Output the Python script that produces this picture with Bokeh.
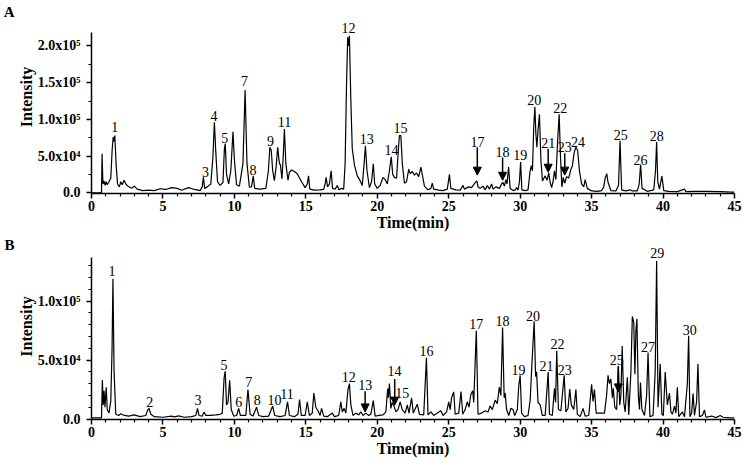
from bokeh.plotting import figure
from bokeh.layouts import column
from bokeh.models import (ColumnDataSource, LabelSet, Arrow, NormalHead, LinearAxis,
                          FixedTicker, Range1d)
from bokeh.embed import file_html
from bokeh.resources import INLINE

# ---------------- Panel A data ----------------
a_time = [0.0, 0.70, 0.74, 0.80, 0.88, 0.95, 1.02, 1.10, 1.20, 1.35, 1.45, 1.52, 1.57, 1.63, 1.72, 1.82,
          1.95, 2.05, 2.15, 2.28, 2.40, 2.55, 2.80, 3.00, 3.20, 3.60, 4.00, 4.40, 4.80, 5.20, 5.60, 6.00,
          6.30, 6.80, 7.20, 7.60, 7.75, 7.83, 7.92, 8.10, 8.35, 8.50, 8.60, 8.70, 8.82, 9.00, 9.20, 9.30,
          9.36, 9.45, 9.60, 9.75, 9.90, 10.00, 10.15, 10.35, 10.60, 10.75, 10.88, 11.05, 11.20, 11.32,
          11.42, 11.80, 12.20, 12.38, 12.48, 12.58, 12.68, 12.80, 12.92, 13.03, 13.15, 13.22, 13.33,
          13.42, 13.50, 13.60, 13.75, 13.85, 14.00, 14.20, 14.40, 14.70, 14.95, 15.10, 15.19, 15.28,
          15.60, 16.00, 16.25, 16.35, 16.42, 16.52, 16.65, 16.77, 16.87, 17.05, 17.20, 17.32, 17.50,
          17.65, 17.75, 17.85, 17.93, 18.00, 18.05, 18.15, 18.25, 18.40, 18.60, 18.80, 18.95, 19.08,
          19.17, 19.28, 19.45, 19.60, 19.72, 19.82, 20.00, 20.20, 20.40, 20.55, 20.70, 20.85, 20.98,
          21.08, 21.20, 21.35, 21.48, 21.55, 21.65, 21.75, 21.90, 22.05, 22.20, 22.30, 22.45, 22.60,
          22.75, 22.90, 23.05, 23.15, 23.30, 23.55, 23.75, 23.85, 23.95, 24.30, 24.60, 24.90, 25.05,
          25.15, 25.50, 25.80, 26.00, 26.10, 26.40, 26.60, 26.75, 26.90, 26.97, 27.05, 27.20, 27.40,
          27.55, 27.70, 27.85, 28.00, 28.10, 28.30, 28.55, 28.70, 28.80, 28.90, 29.00, 29.08, 29.19,
          29.30, 29.50, 29.65, 29.75, 29.85, 29.95, 30.03, 30.12, 30.35, 30.55, 30.70, 30.78, 30.86,
          30.95, 31.03, 31.10, 31.17, 31.25, 31.35, 31.45, 31.56, 31.75, 31.88, 32.00, 32.10, 32.20,
          32.30, 32.40, 32.50, 32.62, 32.73, 32.82, 32.92, 33.02, 33.12, 33.25, 33.40, 33.55, 33.65,
          33.78, 33.90, 34.02, 34.15, 34.30, 34.45, 34.55, 34.70, 35.00, 35.40, 35.70, 35.85, 35.95,
          36.06, 36.15, 36.35, 36.70, 36.88, 36.99, 37.10, 37.40, 37.70, 37.85, 38.20, 38.33, 38.43,
          38.53, 38.90, 39.35, 39.47, 39.55, 39.63, 39.75, 39.92, 40.05, 40.40, 41.00, 41.50, 41.60,
          42.20, 43.00, 44.00, 44.80, 45.00]
a_intensity = [0, 0, 53000, 12000, 16000, 10000, 15000, 11000, 14000, 20000, 60000, 76000, 70000, 78000, 40000, 12000,
               8000, 15000, 11000, 17000, 12000, 9000, 6000, 9000, 5000, 3000, 3500, 3000, 5500, 4500, 7000, 6000,
               3500, 7000, 4500, 3000, 8000, 21000, 6000, 8000, 12000, 50000, 96000, 55000, 15000, 10000, 14000, 60000,
               67000, 25000, 12000, 30000, 83000, 45000, 11000, 9000, 40000, 140000, 40000, 7500, 8000, 23000,
               6000, 5000, 6000, 30000, 62000, 58000, 30000, 16500, 35000, 62000, 40000, 38000, 19000,
               50000, 87000, 40000, 17000, 28000, 31000, 29000, 26000, 15000, 7000, 12000, 23000, 5000,
               3500, 4000, 4500, 12000, 21000, 8000, 12000, 30000, 6000, 5000, 10000, 4000, 6000,
               5000, 40000, 150000, 212000, 200000, 214000, 126000, 60000, 38000, 23000, 16500, 10000, 40000,
               64000, 30000, 7000, 15000, 39500, 12000, 6000, 10000, 21000, 18000, 12000, 30000, 49000,
               25000, 21000, 20000, 60000, 78000, 78000, 40000, 13000, 15000, 32000, 26000, 29000, 24000,
               27000, 22000, 35000, 25000, 9000, 4000, 6000, 13000, 5000, 3500, 3000, 5000, 25000,
               6000, 4000, 3500, 10000, 5000, 8000, 7000, 11000, 15000, 16000, 8000, 6000, 9000,
               4000, 10000, 5000, 12000, 5000, 8000, 6000, 12000, 14000, 9000, 18000, 12000, 35000,
               6000, 3000, 4000, 7000, 3500, 15000, 42000, 4000, 3000, 4000, 30000, 37000, 30000,
               90000, 117000, 80000, 62000, 85000, 107000, 45000, 16000, 23000, 17000, 27000, 14000, 7000,
               15000, 30000, 18000, 70000, 107000, 50000, 8000, 21000, 13000, 22000, 20000, 32000, 36000,
               55000, 62000, 58000, 30000, 12000, 8000, 18000, 6000, 2500, 2000, 3000, 8000, 20000,
               26000, 14000, 3000, 2500, 10000, 71000, 4000, 2500, 4000, 2500, 2500, 12000, 38500,
               6000, 2000, 4000, 30000, 69000, 15000, 5000, 22600, 3000, 2000, 1500, 5000, 1500,
               2000, 1800, 1500, 1000, 800]

a_peak_labels = ["1", "3", "4", "5", "7", "8", "9", "11", "12", "13", "14", "15", "17", "18", "19",
                 "20", "21", "22", "23", "24", "25", "26", "28"]
a_label_time = [1.63, 7.97, 8.57, 9.32, 10.71, 11.3, 12.53, 13.51, 17.98, 19.26, 21.0, 21.62, 27.02, 28.77,
                30.0, 30.98, 31.96, 32.8, 33.12, 34.05, 37.04, 38.43, 39.55]
a_label_int = [89000, 28000, 105000, 74000, 152000, 31000, 71000, 96000, 224000, 73000, 58000, 88000, 69000,
               55000, 51000, 127000, 67600, 115000, 62000, 69000, 79000, 45000, 77000]

a_arrow_time = [27.0, 28.77, 31.96, 33.12]
a_arrow_top = [62000, 48000, 60000, 54000]
a_arrow_tip = [24000, 17000, 28000, 24000]

# ---------------- Panel B data ----------------
b_time = [0.0, 0.70, 0.76, 0.82, 0.88, 0.94, 1.03, 1.10, 1.22, 1.35, 1.44, 1.50, 1.58, 1.70, 1.90, 2.05,
          2.30, 2.60, 3.00, 3.40, 3.80, 3.95, 4.03, 4.15, 4.40, 5.00, 5.60, 5.80, 6.10, 6.50, 7.00, 7.30,
          7.42, 7.52, 7.75, 7.88, 8.00, 8.30, 8.70, 9.00, 9.15, 9.28, 9.36, 9.45, 9.55, 9.67, 9.78, 9.95,
          10.15, 10.30, 10.42, 10.80, 10.95, 11.10, 11.30, 11.55, 11.70, 12.00, 12.40, 12.68, 12.82,
          13.20, 13.55, 13.72, 13.85, 14.20, 14.45, 14.56, 14.68, 14.95, 15.10, 15.25, 15.45, 15.56,
          15.70, 15.85, 16.00, 16.10, 16.25, 16.50, 16.85, 17.00, 17.30, 17.45, 17.55, 17.68, 17.80,
          17.95, 18.05, 18.15, 18.30, 18.50, 18.70, 18.85, 19.00, 19.20, 19.40, 19.55, 19.72, 19.85,
          20.10, 20.40, 20.60, 20.73, 20.78, 20.85, 20.95, 21.05, 21.15, 21.30, 21.45, 21.60, 21.75,
          21.95, 22.10, 22.22, 22.40, 22.52, 22.80, 22.95, 23.25, 23.44, 23.55, 23.75, 23.95, 24.20,
          24.45, 24.60, 24.85, 25.00, 25.10, 25.20, 25.35, 25.45, 25.70, 25.86, 25.98, 26.15, 26.30,
          26.42, 26.55, 26.68, 26.75, 26.93, 27.05, 27.30, 27.55, 27.75, 27.90, 28.05, 28.25, 28.40,
          28.54, 28.65, 28.77, 28.88, 28.95, 29.05, 29.20, 29.35, 29.50, 29.62, 29.80, 29.90, 30.00,
          30.10, 30.30, 30.55, 30.70, 30.82, 30.98, 31.08, 31.15, 31.25, 31.40, 31.55, 31.75, 31.96,
          32.05, 32.25, 32.40, 32.48, 32.56, 32.68, 32.85, 33.08, 33.20, 33.35, 33.47, 33.58, 33.75,
          33.90, 34.00, 34.20, 34.40, 34.55, 34.80, 35.00, 35.10, 35.20, 35.32, 35.60, 35.90, 36.05,
          36.15, 36.25, 36.35, 36.45, 36.52, 36.62, 36.75, 36.87, 36.97, 37.05, 37.14, 37.25, 37.35,
          37.50, 37.60, 37.75, 37.85, 37.95, 38.03, 38.10, 38.17, 38.27, 38.35, 38.42, 38.52, 38.70,
          38.85, 38.95, 39.08, 39.30, 39.45, 39.55, 39.65, 39.80, 39.92, 40.02, 40.15, 40.30, 40.45,
          40.55, 40.65, 40.80, 40.90, 41.00, 41.10, 41.35, 41.50, 41.70, 41.79, 41.88, 42.00, 42.10,
          42.20, 42.35, 42.44, 42.55, 42.75, 42.90, 43.00, 43.40, 43.70, 44.00, 44.20, 44.60, 45.00]
b_intensity = [1000, 1000, 33000, 12000, 24000, 10000, 27000, 8000, 5000, 15000, 60000, 119000, 40000, 4000, 3000, 4500,
               3000, 2500, 3500, 2000, 3000, 8000, 9000, 4000, 2000, 1500, 2500, 1800, 2600, 1500, 2000, 3000,
               9000, 3000, 2500, 6000, 3000, 3000, 3500, 4000, 5000, 35000, 40600, 12000, 14000, 32800, 8000, 2500,
               3000, 9000, 3000, 3000, 25000, 4000, 2500, 10000, 3000, 2000, 2500, 11000, 3000,
               2000, 3000, 14600, 3000, 2000, 4000, 16500, 3000, 3000, 14500, 3000, 5000, 22000,
               10000, 7000, 3000, 9000, 2500, 2000, 5000, 2000, 3000, 14600, 6000, 9000, 5000,
               25000, 30000, 12000, 3000, 5000, 3500, 6000, 3000, 5000, 3000, 4000, 15600, 2500,
               3000, 3500, 6000, 25800, 18000, 30000, 9000, 14000, 11800, 6000, 8000, 14600, 8000,
               5000, 12000, 5000, 18000, 5000, 12600, 4000, 3500, 52000, 3500, 6000, 3000, 5000,
               7000, 3000, 6000, 14600, 8000, 18000, 23000, 4000, 5000, 23300, 4000, 8000, 14600,
               10000, 21000, 24000, 14000, 74800, 4000, 5000, 7000, 6000, 11000, 8000, 16000, 13000,
               27000, 20000, 77600, 18000, 22000, 8000, 3000, 9000, 8000, 3000, 8000, 28000, 37000,
               5000, 2000, 3000, 16000, 46000, 83000, 36000, 40000, 14000, 12000, 3000, 3000, 39800,
               4000, 3000, 26000, 14000, 58000, 8000, 7000, 37000, 6000, 9000, 25500, 12000, 8000,
               25000, 4000, 2000, 9000, 2500, 3000, 29400, 15000, 25000, 5000, 5000, 5000, 20000,
               37000, 30000, 34000, 18000, 26000, 10000, 8000, 44500, 12000, 20000, 62000, 14000, 6000,
               35500, 3500, 40000, 87000, 82000, 38000, 74800, 85000, 20000, 8000, 31000, 8000, 3000,
               20000, 56500, 2000, 3000, 40000, 134000, 10000, 46800, 4000, 3000, 39800, 12000, 22000,
               6000, 4000, 11000, 5000, 27000, 2000, 6000, 2000, 30000, 70600, 2000, 5000, 21600,
               3000, 15000, 46800, 2000, 3000, 7600, 1500, 2500, 1200, 3000, 1500, 1200, 1000]

b_peak_labels = ["1", "2", "3", "5", "6", "7", "8", "10", "11", "12", "13", "14", "15", "16", "17",
                 "18", "19", "20", "21", "22", "23", "25", "27", "29", "30"]
b_label_time = [1.44, 4.08, 7.45, 9.28, 10.3, 11.0, 11.6, 12.8, 13.68, 18.0, 19.15, 21.2, 21.75, 23.44,
                26.93, 28.77, 29.88, 30.9, 31.84, 32.62, 33.12, 36.76, 38.95, 39.6, 41.86]
b_label_int = [126000, 14500, 16000, 45500, 14500, 31500, 16500, 16000, 21000, 36000, 28600, 40500, 22000,
               57500, 80500, 83500, 42000, 87500, 45000, 64000, 42000, 50000, 61500, 141000, 75500]

b_arrow_time = [19.15, 21.22, 36.87]
b_arrow_top = [23500, 34000, 45000]
b_arrow_tip = [6000, 11800, 23000]

# ---------------- axis ticks ----------------
x_ticks = [0, 5, 10, 15, 20, 25, 30, 35, 40, 45]
x_minor = [m for m in range(0, 46) if m % 5 != 0]

a_y_ticks = [0, 50000, 100000, 150000, 200000]
a_y_minor = [25000, 75000, 125000, 175000]
a_y_tick_labels = ["0.0", "5.0x10\u2074", "1.0x10\u2075", "1.5x10\u2075", "2.0x10\u2075"]
a_axis_top = 218000

b_y_ticks = [0, 50000, 100000]
b_y_minor = [10000, 20000, 30000, 40000, 60000, 70000, 80000, 90000, 110000, 120000, 130000]
b_y_tick_labels = ["0.0", "5.0x10\u2074", "1.0x10\u2075"]
b_axis_top = 137000

SERIF = "Liberation Serif"


def style_axis(ax):
    ax.axis_line_color = "black"
    ax.axis_line_width = 1.5
    ax.major_tick_line_color = "black"
    ax.major_tick_line_width = 1.5
    ax.minor_tick_line_color = "black"
    ax.minor_tick_line_width = 1.2
    ax.major_tick_in = 0
    ax.major_tick_out = 5
    ax.minor_tick_in = 0
    ax.minor_tick_out = 3
    ax.major_label_text_font = SERIF
    ax.major_label_text_font_style = "bold"
    ax.major_label_text_font_size = "14px"
    ax.major_label_text_color = "black"
    ax.axis_label_text_font = SERIF
    ax.axis_label_text_font_style = "bold"
    ax.axis_label_text_font_size = "16px"
    ax.axis_label_text_color = "black"


def make_panel(t, inten, y_rng, axis_top, yt, ymin, ylab, lab_txt, lab_t, lab_i, ar_t, ar_top, ar_tip,
               letter, letter_y, height):
    p = figure(width=745, height=height, x_range=Range1d(0, 45), y_range=Range1d(*y_rng),
               output_backend="svg", toolbar_location=None,
               min_border_left=90, min_border_right=11, min_border_top=0,
               min_border_bottom=10)
    p.grid.grid_line_color = None
    p.outline_line_color = None
    p.background_fill_color = "white"
    p.border_fill_color = "white"

    p.line(t, inten, line_color="black", line_width=1.2)

    xa = p.xaxis[0]
    xa.ticker = FixedTicker(ticks=x_ticks, minor_ticks=x_minor)
    ya = p.yaxis[0]
    ya.ticker = FixedTicker(ticks=yt, minor_ticks=ymin)
    ya.major_label_overrides = {v: s for v, s in zip(yt, ylab)}
    ya.bounds = (y_rng[0], axis_top)
    style_axis(xa)
    style_axis(ya)
    xa.axis_label = "Time(min)"
    xa.major_label_standoff = 2
    xa.axis_label_standoff = 0
    ya.axis_label = "Intensity"
    ya.major_label_standoff = 6
    ya.axis_label_standoff = 0

    # panel letter drawn as the only tick label of an extra, invisible left axis
    la = LinearAxis(ticker=FixedTicker(ticks=[letter_y]),
                    major_label_overrides={letter_y: letter})
    la.axis_line_color = None
    la.major_tick_line_color = None
    la.minor_tick_line_color = None
    la.major_tick_out = 0
    la.major_tick_in = 0
    la.major_label_standoff = 0
    la.major_label_text_font = SERIF
    la.major_label_text_font_style = "bold"
    la.major_label_text_font_size = "15px"
    la.major_label_text_color = "black"
    p.add_layout(la, "left")

    src = ColumnDataSource(dict(x=lab_t, y=lab_i, text=lab_txt))
    p.add_layout(LabelSet(x="x", y="y", text="text", source=src, text_align="center",
                          text_baseline="middle", text_font=SERIF, text_font_size="14px",
                          text_color="black"))
    for xt, y0, y1 in zip(ar_t, ar_top, ar_tip):
        p.add_layout(Arrow(x_start=xt, y_start=y0, x_end=xt, y_end=y1, line_color="black",
                           line_width=1.5,
                           end=NormalHead(size=8, fill_color="black", line_color="black")))
    return p


pa = make_panel(a_time, a_intensity, (-1000, 262000), a_axis_top, a_y_ticks, a_y_minor, a_y_tick_labels,
                a_peak_labels, a_label_time, a_label_int, a_arrow_time, a_arrow_top, a_arrow_tip,
                "A", 245700, 233)
pb = make_panel(b_time, b_intensity, (-420, 157400), b_axis_top, b_y_ticks, b_y_minor, b_y_tick_labels,
                b_peak_labels, b_label_time, b_label_int, b_arrow_time, b_arrow_top, b_arrow_tip,
                "B", 153200, 226)

layout = column(pa, pb, spacing=0)
open("out.html", "w").write(file_html(layout, INLINE))
